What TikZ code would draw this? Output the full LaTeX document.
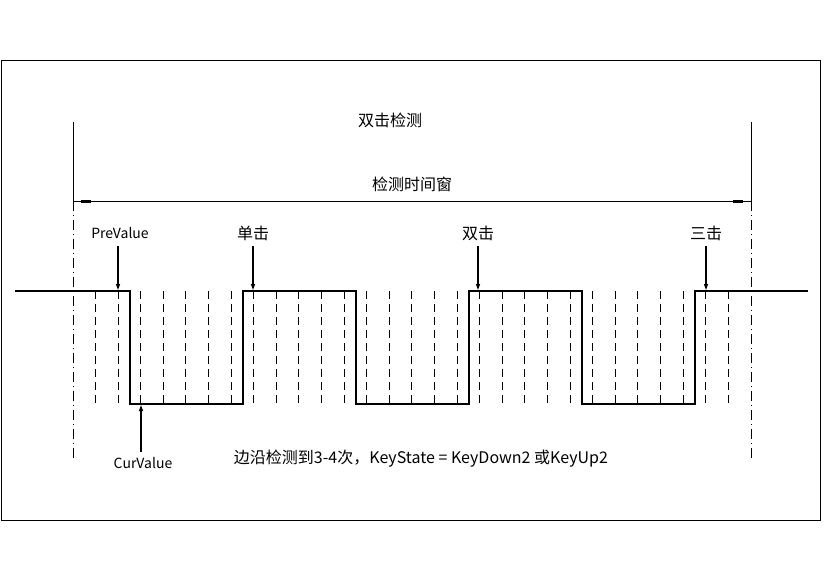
\documentclass[tikz,border=0pt]{standalone}
\usepackage{fontspec}
\setmainfont{Noto Sans CJK SC}
\usetikzlibrary{arrows.meta}
\begin{document}
\begin{tikzpicture}[x=1pt,y=-1pt,
  lbl/.style={inner sep=1pt,font=\fontsize{14}{16}\selectfont},
  cjk/.style={inner sep=1pt,font=\fontsize{16}{18}\selectfont},
  sig/.style={line width=1.4pt},
  grid/.style={dash pattern=on 8pt off 5pt,line width=0.6pt},
  dd/.style={dash pattern=on 10pt off 4pt on 1pt off 4pt,line width=0.6pt},
  ptr/.style={line width=1.2pt,-{Triangle[length=6pt,width=4pt]}}]
\useasboundingbox (0,0) rectangle (824,583);
\draw[line width=0.8pt] (1,60) rectangle (820,520);
% window boundaries
\draw[line width=0.6pt] (73,122) -- (73,201);
\draw[dd] (73,201) -- (73,460);
\draw[line width=0.6pt] (751,122) -- (751,201);
\draw[dd] (751,201) -- (751,460);
\coordinate (wl) at (73,201); \coordinate (wr) at (751,201);
\draw[line width=0.6pt,{Rectangle[length=10pt,width=3pt]}-{Rectangle[length=10pt,width=3pt]}] ([xshift=8pt]wl) -- ([xshift=-8pt]wr);
\draw[line width=0.6pt] (wl) -- (wr);
\node[cjk] (t1) at (390,120) {双击检测};
\node[cjk] (t2) at (412,184) {检测时间窗};
% grid
\foreach \i in {0,...,28} \draw[grid] (95.3+22.6*\i,291) -- (95.3+22.6*\i,405);
% signal
\draw[sig] (15,291) -- (130,291) -- (130,404) -- (243,404) -- (243,291) -- (356,291) -- (356,404) -- (469,404) -- (469,291) -- (582,291) -- (582,404) -- (695,404) -- (695,291) -- (808,291);
% labels
\node[lbl] (pv) at (120,233) {PreValue};
\node[cjk] (s1) at (253,233) {单击};
\node[cjk] (s2) at (478,233) {双击};
\node[cjk] (s3) at (706,233) {三击};
\coordinate (p0) at (118,290); \coordinate (p1) at (253,290);
\coordinate (p2) at (478,290); \coordinate (p3) at (706,290);
\draw[ptr] (118,246) -- (p0);
\draw[ptr] (253,246) -- (p1);
\draw[ptr] (478,246) -- (p2);
\draw[ptr] (706,246) -- (p3);
\node[lbl] (cv) at (143,463) {CurValue};
\coordinate (c0) at (141,405);
\draw[ptr] (141,452) -- (c0);
\node[cjk] (bt) at (421,459) {边沿检测到3-4次，KeyState = KeyDown2 或KeyUp2};
\end{tikzpicture}
\end{document}
